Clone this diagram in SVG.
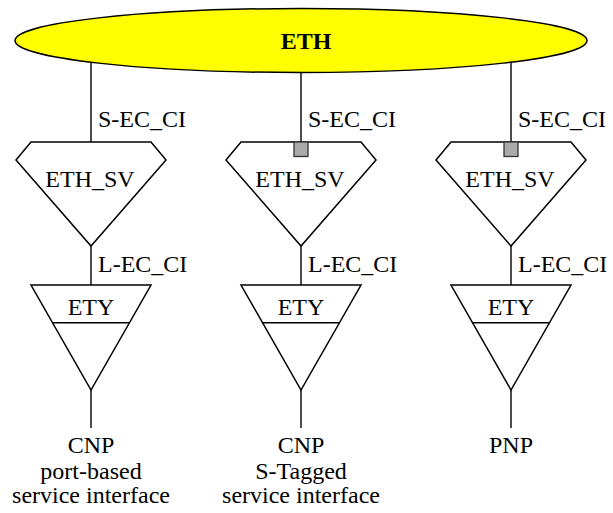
<svg xmlns="http://www.w3.org/2000/svg" width="613" height="513" viewBox="0 0 613 513" font-family="'Liberation Serif', 'Times New Roman', Times, serif">
<style>
.ln{stroke:#000;stroke-width:1.4;fill:none}
.sh{stroke:#000;stroke-width:1.5;fill:#fff;stroke-linejoin:miter}
text{font-family:'Liberation Serif','Times New Roman',Times,serif;font-size:24px;fill:#000}
.c{text-anchor:middle}
.sq{fill:#aaaaaa;stroke:#333;stroke-width:1.3}
</style>
<defs>
<path id="sv" d="M-60,142 L60,142 L75,160 L0,246 L-75,160 Z"/>
<path id="ety" d="M-60,285 L60,285 L0,390 Z"/>
</defs>
<g id="connectors">
<line class="ln" x1="91" y1="50" x2="91" y2="142"/>
<line class="ln" x1="301" y1="50" x2="301" y2="142"/>
<line class="ln" x1="511" y1="50" x2="511" y2="142"/>
<line class="ln" x1="91" y1="246" x2="91" y2="285"/>
<line class="ln" x1="301" y1="246" x2="301" y2="285"/>
<line class="ln" x1="511" y1="246" x2="511" y2="285"/>
<line class="ln" x1="91" y1="390" x2="91" y2="428"/>
<line class="ln" x1="301" y1="390" x2="301" y2="428"/>
<line class="ln" x1="511" y1="390" x2="511" y2="428"/>
<text x="98" y="127">S-EC_CI</text>
<text x="308" y="127">S-EC_CI</text>
<text x="518" y="127">S-EC_CI</text>
<text x="98" y="272">L-EC_CI</text>
<text x="308" y="272">L-EC_CI</text>
<text x="518" y="272">L-EC_CI</text>
</g>
<g id="eth">
<ellipse cx="301" cy="40.5" rx="286" ry="32" fill="#ffff00" stroke="#000" stroke-width="1.5"/>
<text class="c" x="306" y="49" font-weight="bold">ETH</text>
</g>
<g id="sv1">
<use href="#sv" x="91" class="sh"/>
<text class="c" x="90" y="187">ETH_SV</text>
</g>
<g id="sv2">
<use href="#sv" x="301" class="sh"/>
<rect class="sq" x="294" y="142" width="14" height="14.5"/>
<text class="c" x="300" y="187">ETH_SV</text>
</g>
<g id="sv3">
<use href="#sv" x="511" class="sh"/>
<rect class="sq" x="504" y="142" width="14" height="14.5"/>
<text class="c" x="510" y="187">ETH_SV</text>
</g>
<g id="ety1">
<use href="#ety" x="91" class="sh"/>
<line class="ln" x1="52.5" y1="322.7" x2="129.5" y2="322.7"/>
<text class="c" x="91" y="315">ETY</text>
</g>
<g id="ety2">
<use href="#ety" x="301" class="sh"/>
<line class="ln" x1="262.5" y1="322.7" x2="339.5" y2="322.7"/>
<text class="c" x="301" y="315">ETY</text>
</g>
<g id="ety3">
<use href="#ety" x="511" class="sh"/>
<line class="ln" x1="472.5" y1="322.7" x2="549.5" y2="322.7"/>
<text class="c" x="511" y="315">ETY</text>
</g>
<g id="port1">
<text class="c" x="91" y="453">CNP</text>
<text class="c" x="91" y="479">port-based</text>
<text class="c" x="91" y="503">service interface</text>
</g>
<g id="port2">
<text class="c" x="301" y="453">CNP</text>
<text class="c" x="301" y="479">S-Tagged</text>
<text class="c" x="301" y="503">service interface</text>
</g>
<g id="port3">
<text class="c" x="511" y="453">PNP</text>
</g>
</svg>
